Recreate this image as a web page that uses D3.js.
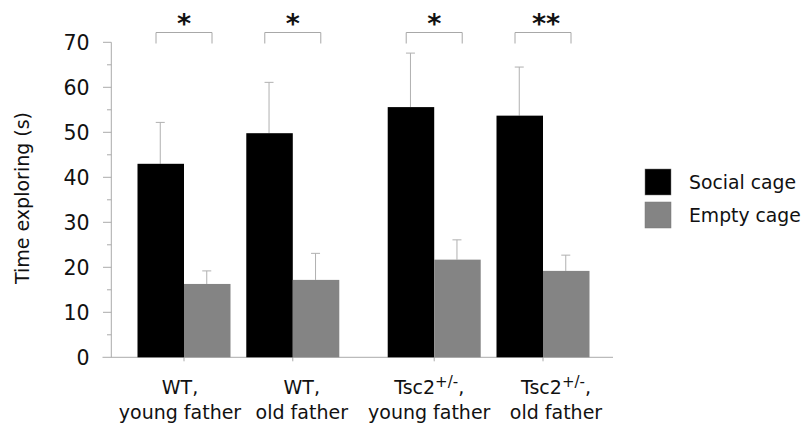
<!DOCTYPE html>
<html>
<head>
<meta charset="utf-8">
<script src="https://cdn.jsdelivr.net/npm/d3@7"></script>
<style>
  body { margin: 0; background: #fff; }
  text { font-family: "DejaVu Sans", Verdana, sans-serif; fill: #111; }
</style>
</head>
<body>
<div id="chart"></div>
<script>
// chart data
const groups = ["WT|young father", "WT|old father", "Tsc2|young father", "Tsc2|old father"];
const series = ["Social cage", "Empty cage"];
const socialMean = [43, 49.8, 55.6, 53.7];
const socialErr = [9.2, 11.3, 12.0, 10.8];
const emptyMean = [16.3, 17.2, 21.7, 19.2];
const emptyErr = [2.9, 5.9, 4.4, 3.5];
const stars = ["*", "*", "*", "**"];
const yTicks = [0, 10, 20, 30, 40, 50, 60, 70];

const width = 806, height = 431;
const colors = { "Social cage": "#000000", "Empty cage": "#848484" };
const axisColor = "#aaaaaa";

const svg = d3.select("#chart").append("svg")
  .attr("width", width).attr("height", height);

const y = d3.scaleLinear().domain([0, 70]).range([357.3, 42.3]);

// group centres: WT pair, then a wider gap before the Tsc2 pair
const slot = groups.map((g, i) => i + (i >= 2 ? 0.3 : 0));
const x = d3.scaleLinear().domain([0, 3.3]).range([184, 543]);
const barW = 46.5;
// the category labels sit a little off their ticks in the original
const labelShift = [-4, 9, -5, 13];

// axes
svg.append("line")
  .attr("x1", 111.3).attr("x2", 111.3)
  .attr("y1", y(70)).attr("y2", y(0))
  .attr("stroke", axisColor).attr("stroke-width", 1);
svg.append("line")
  .attr("x1", 102.5).attr("x2", 613)
  .attr("y1", y(0)).attr("y2", y(0))
  .attr("stroke", axisColor).attr("stroke-width", 1);

const minor = d3.range(5, 70, 10);
svg.append("g").selectAll("line").data(minor).join("line")
  .attr("x1", 107).attr("x2", 111.3)
  .attr("y1", d => y(d)).attr("y2", d => y(d))
  .attr("stroke", axisColor);
svg.append("g").selectAll("line").data(yTicks.slice(1)).join("line")
  .attr("x1", 103).attr("x2", 111.3)
  .attr("y1", d => y(d)).attr("y2", d => y(d))
  .attr("stroke", axisColor);
svg.append("g").selectAll("text").data(yTicks).join("text")
  .attr("x", 89.5).attr("y", d => y(d))
  .attr("dy", "0.36em")
  .attr("text-anchor", "end")
  .style("font-size", "20.5px")
  .text(d => d);

svg.append("text")
  .attr("transform", "translate(29,198) rotate(-90)")
  .attr("text-anchor", "middle")
  .style("font-size", "19px")
  .text("Time exploring (s)");

// x ticks
svg.append("g").selectAll("line").data(slot).join("line")
  .attr("x1", d => x(d)).attr("x2", d => x(d))
  .attr("y1", y(0)).attr("y2", y(0) + 4)
  .attr("stroke", axisColor);

// bars
const rows = groups.map((g, i) => [
  { s: series[0], v: socialMean[i], e: socialErr[i], cx: x(slot[i]) - barW / 2 },
  { s: series[1], v: emptyMean[i], e: emptyErr[i], cx: x(slot[i]) + barW / 2 }
]).flat();

svg.append("g").selectAll("line").data(rows).join("line")
  .attr("x1", d => d.cx - 0.5).attr("x2", d => d.cx - 0.5)
  .attr("y1", d => y(d.v)).attr("y2", d => y(d.v + d.e))
  .attr("stroke", "#b0b0b0");
svg.append("g").selectAll("line").data(rows).join("line")
  .attr("x1", d => d.cx - 5).attr("x2", d => d.cx + 4)
  .attr("y1", d => y(d.v + d.e)).attr("y2", d => y(d.v + d.e))
  .attr("stroke", "#b0b0b0");

svg.append("g").selectAll("rect").data(rows).join("rect")
  .attr("x", d => d.cx - barW / 2)
  .attr("width", barW)
  .attr("y", d => y(d.v))
  .attr("height", d => y(0) - y(d.v))
  .attr("fill", d => colors[d.s]);

// significance brackets
const br = svg.append("g");
br.selectAll("path").data(slot).join("path")
  .attr("d", d => `M${x(d) - 28},43.5V32.5H${x(d) + 28}V43.5`)
  .attr("fill", "none")
  .attr("stroke", "#a8a8a8");
br.selectAll("text").data(stars).join("text")
  .attr("x", (d, i) => x(slot[i]) + (d.length > 1 ? 3 : 0))
  .attr("y", 33)
  .attr("text-anchor", "middle")
  .style("font-size", "27px")
  .style("font-weight", "bold")
  .text(d => d);

// x labels
const lab = svg.append("g").selectAll("text").data(groups).join("text")
  .attr("text-anchor", "middle")
  .style("font-size", "19px");
lab.each(function (g, i) {
  const [geno, father] = g.split("|");
  const t = d3.select(this);
  const cx = x(slot[i]) + labelShift[i];
  const l1 = t.append("tspan").attr("x", cx).attr("y", 394);
  if (geno === "Tsc2") {
    l1.append("tspan").text("Tsc2");
    l1.append("tspan").attr("dy", -7).style("font-size", "15px").text("+/-");
    l1.append("tspan").attr("dy", 7).text(",");
  } else {
    l1.text(geno + ",");
  }
  t.append("tspan").attr("x", cx).attr("y", 419).text(father);
});

// legend
const leg = svg.append("g").selectAll("g").data(series).join("g")
  .attr("transform", (d, i) => `translate(645,${169 + i * 33})`);
leg.append("rect")
  .attr("width", 26).attr("height", 26)
  .attr("fill", d => colors[d])
  .attr("stroke", "#777").attr("stroke-width", 0.5);
leg.append("text")
  .attr("x", 44).attr("y", 13).attr("dy", "0.36em")
  .style("font-size", "18.8px")
  .text(d => d);
</script>
</body>
</html>
